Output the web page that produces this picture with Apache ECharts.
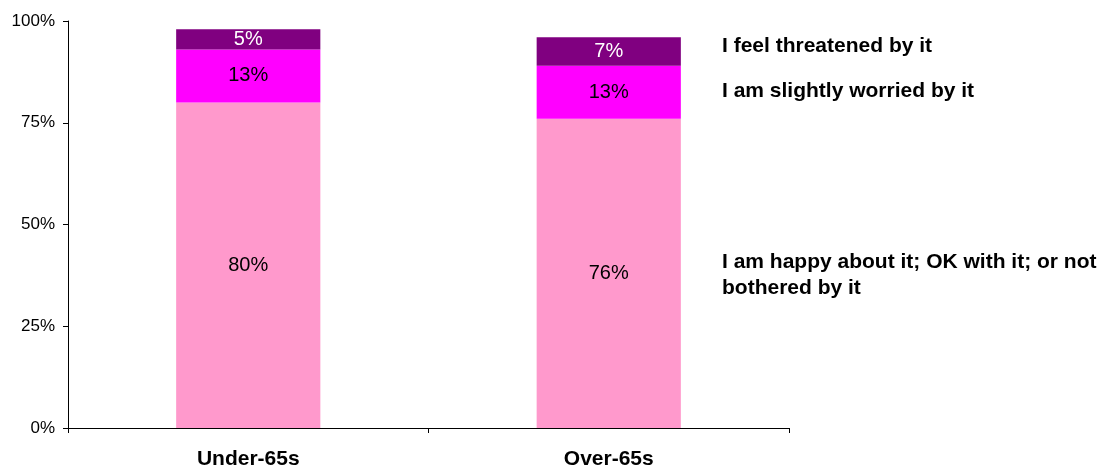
<!DOCTYPE html>
<html>
<head>
<meta charset="utf-8">
<script src="https://cdn.jsdelivr.net/npm/echarts@6/dist/echarts.min.js"></script>
<style>html,body{margin:0;padding:0;background:#fff;}#c{width:1117px;height:468px;}</style>
</head>
<body>
<div id="c"></div>
<script>
const categories = ['Under-65s', 'Over-65s'];
const seriesNames = [
  'I am happy about it; OK with it; or not\nbothered by it',
  'I am slightly worried by it',
  'I feel threatened by it'
];
const happy = [80, 76];
const worried = [13, 13];
const threatened = [5, 7];
const yTicks = [0, 25, 50, 75, 100];

const FONT = '"Liberation Sans", Arial, sans-serif';
const chart = echarts.init(document.getElementById('c'), null, {renderer: 'canvas'});

function barSeries(name, data, color, labelColor) {
  return {
    name: name, type: 'bar', stack: 'total', data: data, barWidth: '40%',
    itemStyle: {color: color},
    label: {show: true, position: 'inside', formatter: '{c}%', color: labelColor,
      fontFamily: FONT, fontSize: 20},
    emphasis: {disabled: true}
  };
}

chart.setOption({
  animation: false,
  backgroundColor: '#fff',
  grid: {left: 68, right: 328, top: 21, bottom: 40, containLabel: false, outerBoundsMode: 'none'},
  xAxis: {
    type: 'category', data: categories,
    axisLine: {lineStyle: {color: '#000', width: 1}},
    axisTick: {show: true, length: 5, alignWithLabel: false, lineStyle: {color: '#000'}},
    axisLabel: {color: '#000', fontFamily: FONT, fontSize: 21, fontWeight: 'bold', margin: 21}
  },
  yAxis: {
    type: 'value', min: 0, max: 100, interval: 25,
    axisLine: {show: true, lineStyle: {color: '#000', width: 1}},
    axisTick: {show: true, length: 5, lineStyle: {color: '#000'}},
    splitLine: {show: false},
    axisLabel: {color: '#000', fontFamily: FONT, fontSize: 17, margin: 13,
      formatter: v => yTicks.includes(v) ? v + '%' : ''}
  },
  series: [
    barSeries(seriesNames[0], happy, '#FF99CC', '#000'),
    barSeries(seriesNames[1], worried, '#FF00FF', '#000'),
    barSeries(seriesNames[2], threatened, '#800080', '#fff')
  ],
  graphic: [
    {type: 'text', left: 722, top: 36, style: {text: seriesNames[2], font: 'bold 21px ' + FONT, fill: '#000'}},
    {type: 'text', left: 722, top: 81, style: {text: seriesNames[1], font: 'bold 21px ' + FONT, fill: '#000'}},
    {type: 'text', left: 722, top: 249, style: {text: seriesNames[0], font: 'bold 21px ' + FONT, fill: '#000', lineHeight: 26}}
  ]
});
</script>
</body>
</html>
